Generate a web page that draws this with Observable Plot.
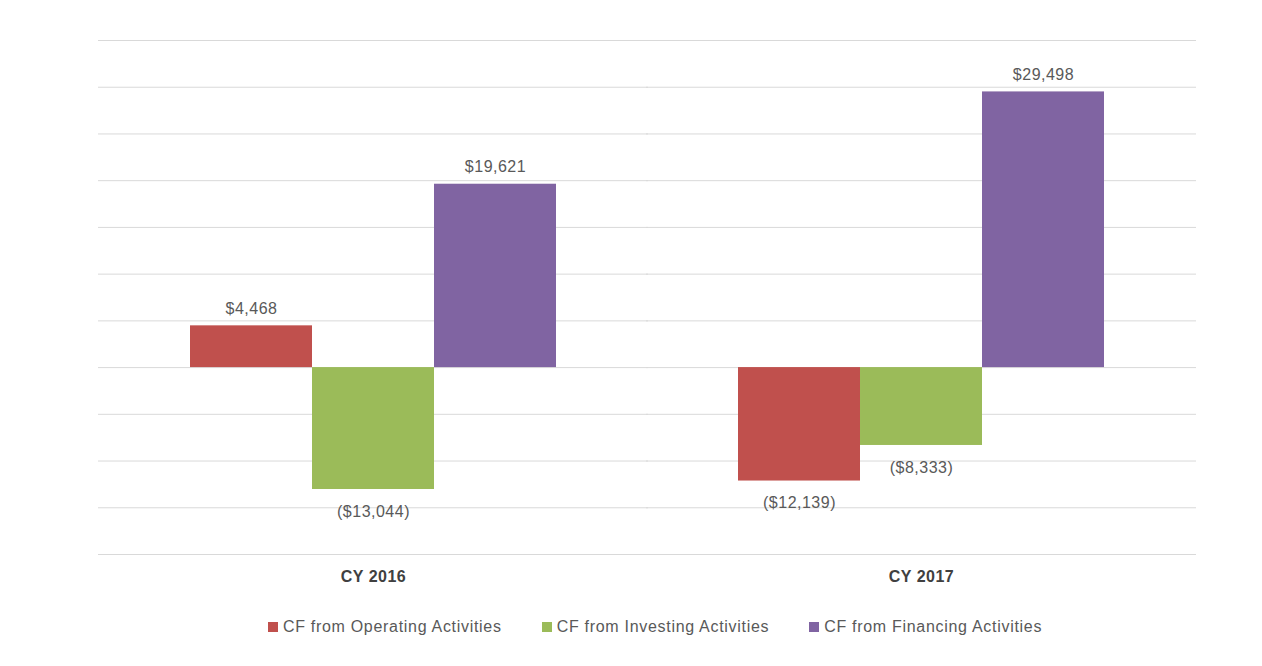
<!DOCTYPE html>
<html>
<head>
<meta charset="utf-8">
<script src="https://cdn.jsdelivr.net/npm/d3@7"></script>
<script src="https://cdn.jsdelivr.net/npm/@observablehq/plot@0.6"></script>
<style>
  body { margin: 0; background: #fff; font-family: "Liberation Sans", Arial, sans-serif; }
  #legend { display: flex; justify-content: center; gap: 0; margin-top: 18px; padding-left: 48px; font-size: 16px; color: #595959; letter-spacing: 0.7px; }
  .item { display: flex; align-items: center; margin: 0 20px; }
  .sw { width: 10px; height: 10px; margin-right: 5px; }
</style>
</head>
<body>
<div id="chart"></div>
<div id="legend"></div>
<script>
const categories = ["CY 2016", "CY 2017"];
const series = ["CF from Operating Activities", "CF from Investing Activities", "CF from Financing Activities"];
const colors = ["#c0504d", "#9bbb59", "#8064a2"];
const operating = [4468, -12139];
const investing = [-13044, -8333];
const financing = [19621, 29498];
const yTicks = [-20000, -15000, -10000, -5000, 0, 5000, 10000, 15000, 20000, 25000, 30000, 35000];

const values = [operating, investing, financing];
const data = [];
categories.forEach((c, i) => series.forEach((s, j) => data.push({category: c, series: s, value: values[j][i]})));
const fmt = v => v < 0 ? `($${d3.format(",")(-v)})` : `$${d3.format(",")(v)}`;

const chart = Plot.plot({
  width: 1262,
  height: 600,
  marginLeft: 97,
  marginRight: 66,
  marginTop: 40,
  marginBottom: 46,
  style: {fontFamily: "'Liberation Sans', Arial, sans-serif", fontSize: "16px", color: "#595959", background: "#fff", overflow: "visible"},
  fx: {domain: categories, paddingInner: 0.333, paddingOuter: 0.1676, label: null},
  x: {domain: series, padding: 0, axis: null},
  y: {domain: [-20000, 35000], axis: null},
  color: {domain: series, range: colors},
  marks: [
    Plot.ruleY(yTicks, {stroke: "#d9d9d9", strokeWidth: 1, insetLeft: -92, insetRight: -92}),
    Plot.axisFx({anchor: "bottom", tickSize: 0, tickPadding: 16, fontWeight: "bold", fill: "#404040", label: null}),
    Plot.barY(data, {fx: "category", x: "series", y: "value", fill: "series"}),
    Plot.text(data.filter(d => d.value >= 0), {fx: "category", x: "series", y: "value", text: d => fmt(d.value), dy: -17, fill: "#595959"}),
    Plot.text(data.filter(d => d.value < 0), {fx: "category", x: "series", y: "value", text: d => fmt(d.value), dy: 22, fill: "#595959"})
  ]
});
chart.querySelectorAll("text").forEach(t => t.setAttribute("letter-spacing", "0.5"));
document.getElementById("chart").appendChild(chart);

const legend = document.getElementById("legend");
series.forEach((s, i) => {
  const item = document.createElement("div");
  item.className = "item";
  item.innerHTML = `<div class="sw" style="background:${colors[i]}"></div><span>${s}</span>`;
  legend.appendChild(item);
});
</script>
</body>
</html>
